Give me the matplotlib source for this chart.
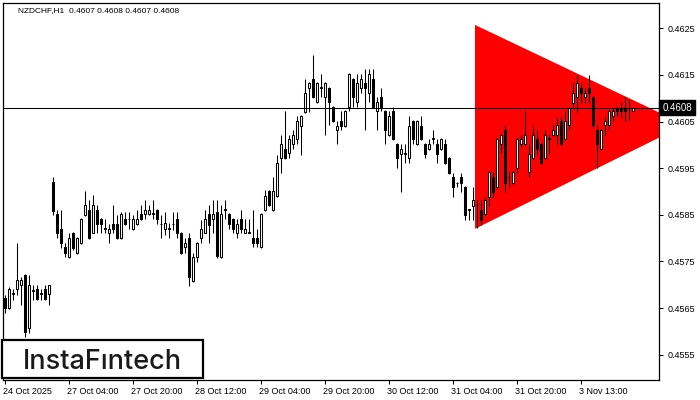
import numpy as np
import matplotlib
matplotlib.use('Agg')
import matplotlib.pyplot as plt
from matplotlib.patches import Polygon, Rectangle
import matplotlib.transforms as mtransforms

plt.rcParams['font.family'] = ['Liberation Sans', 'DejaVu Sans']

# NZDCHF H1 (bar 0 = 24 Oct 12:00)
opens = [0.45672, 0.45651, 0.45680, 0.45691, 0.45699, 0.45722, 0.45608, 0.45686, 0.45691, 0.45680,
         0.45691, 0.45681, 0.45921, 0.45852, 0.45820, 0.45781, 0.45760, 0.45812, 0.45769, 0.45790,
         0.45850, 0.45861, 0.45812, 0.45861, 0.45841, 0.45820, 0.45812, 0.45830, 0.45830, 0.45801,
         0.45841, 0.45841, 0.45820, 0.45830, 0.45852, 0.45852, 0.45852, 0.45852, 0.45861, 0.45830,
         0.45820, 0.45820, 0.45830, 0.45841, 0.45812, 0.45781, 0.45801, 0.45709, 0.45760, 0.45801,
         0.45812, 0.45852, 0.45841, 0.45856, 0.45760, 0.45861, 0.45852, 0.45841, 0.45812, 0.45841,
         0.45812, 0.45812, 0.45801, 0.45801, 0.45781, 0.45861, 0.45901, 0.45861, 0.45891, 0.45972,
         0.45991, 0.45983, 0.46002, 0.46013, 0.46041, 0.46071, 0.46122, 0.46141, 0.46092, 0.46122,
         0.46103, 0.46122, 0.46081, 0.46032, 0.46052, 0.46041, 0.46081, 0.46141, 0.46092, 0.46122,
         0.46133, 0.46111, 0.46141, 0.46073, 0.46103, 0.46073, 0.46021, 0.46073, 0.46002, 0.45981,
         0.45981, 0.45972, 0.46052, 0.46002, 0.46041, 0.46002, 0.45991, 0.46013, 0.46002, 0.45991,
         0.46002, 0.45972, 0.45931, 0.45918, 0.45931, 0.45910, 0.45861, 0.45869, 0.45871, 0.45861,
         0.45852, 0.45889, 0.45931, 0.45910, 0.46002, 0.46032, 0.45931, 0.45918, 0.45951, 0.46002,
         0.46002, 0.45942, 0.45972, 0.46013, 0.46002, 0.45972, 0.46013, 0.46021, 0.46021, 0.46052,
         0.46013, 0.46043, 0.46090, 0.46103, 0.46122, 0.46103, 0.46122, 0.46103, 0.46032, 0.45991,
         0.46043, 0.46043, 0.46062, 0.46079, 0.46079, 0.46079, 0.46079, 0.46073]
highs = [0.45679, 0.45695, 0.45691, 0.45790, 0.45717, 0.45724, 0.45722, 0.45699, 0.45699, 0.45691,
         0.45699, 0.45700, 0.45931, 0.45861, 0.45861, 0.45790, 0.45812, 0.45813, 0.45803, 0.45843,
         0.45901, 0.45882, 0.45893, 0.45871, 0.45843, 0.45841, 0.45830, 0.45871, 0.45850, 0.45855,
         0.45855, 0.45855, 0.45850, 0.45861, 0.45871, 0.45882, 0.45871, 0.45882, 0.45863, 0.45850,
         0.45855, 0.45832, 0.45855, 0.45855, 0.45813, 0.45801, 0.45812, 0.45769, 0.45792, 0.45839,
         0.45861, 0.45871, 0.45882, 0.45882, 0.45871, 0.45882, 0.45854, 0.45843, 0.45841, 0.45861,
         0.45841, 0.45841, 0.45861, 0.45820, 0.45854, 0.45904, 0.45903, 0.45931, 0.45978, 0.46021,
         0.46073, 0.46021, 0.46032, 0.46062, 0.46064, 0.46141, 0.46135, 0.46193, 0.46135, 0.46152,
         0.46135, 0.46124, 0.46083, 0.46052, 0.46073, 0.46075, 0.46154, 0.46143, 0.46152, 0.46152,
         0.46163, 0.46163, 0.46163, 0.46103, 0.46122, 0.46075, 0.46073, 0.46081, 0.46004, 0.46002,
         0.46002, 0.46062, 0.46054, 0.46054, 0.46062, 0.46004, 0.46013, 0.46032, 0.46013, 0.46015,
         0.46013, 0.45974, 0.45940, 0.45920, 0.45940, 0.45912, 0.45863, 0.45910, 0.45882, 0.45882,
         0.45889, 0.45944, 0.45942, 0.46015, 0.46023, 0.46043, 0.45942, 0.45944, 0.46015, 0.46021,
         0.46073, 0.46002, 0.46043, 0.46032, 0.46004, 0.46032, 0.46021, 0.46043, 0.46060, 0.46060,
         0.46073, 0.46081, 0.46133, 0.46150, 0.46133, 0.46122, 0.46150, 0.46105, 0.46043, 0.46034,
         0.46060, 0.46075, 0.46079, 0.46081, 0.46090, 0.46103, 0.46096, 0.46081]
lows = [0.45640, 0.45649, 0.45668, 0.45679, 0.45657, 0.45588, 0.45597, 0.45668, 0.45668, 0.45668,
        0.45668, 0.45657, 0.45850, 0.45801, 0.45779, 0.45760, 0.45758, 0.45775, 0.45767, 0.45788,
        0.45848, 0.45799, 0.45810, 0.45812, 0.45812, 0.45812, 0.45790, 0.45812, 0.45799, 0.45799,
        0.45828, 0.45820, 0.45818, 0.45828, 0.45839, 0.45841, 0.45850, 0.45841, 0.45830, 0.45801,
        0.45806, 0.45801, 0.45818, 0.45801, 0.45767, 0.45769, 0.45697, 0.45707, 0.45749, 0.45790,
        0.45810, 0.45790, 0.45812, 0.45758, 0.45758, 0.45841, 0.45820, 0.45812, 0.45801, 0.45812,
        0.45810, 0.45810, 0.45781, 0.45781, 0.45779, 0.45859, 0.45869, 0.45859, 0.45889, 0.45940,
        0.45970, 0.45972, 0.45991, 0.46002, 0.45978, 0.46069, 0.46071, 0.46101, 0.46090, 0.46103,
        0.46021, 0.46043, 0.46050, 0.46002, 0.46032, 0.46039, 0.46073, 0.46081, 0.46081, 0.46111,
        0.46032, 0.46092, 0.46079, 0.46032, 0.46073, 0.46002, 0.46019, 0.46011, 0.45951, 0.45899,
        0.45961, 0.45961, 0.46002, 0.46000, 0.46011, 0.45972, 0.45989, 0.46002, 0.45961, 0.45989,
        0.45959, 0.45938, 0.45889, 0.45910, 0.45899, 0.45839, 0.45839, 0.45839, 0.45822, 0.45829,
        0.45850, 0.45869, 0.45889, 0.45908, 0.45983, 0.45899, 0.45910, 0.45916, 0.45940, 0.45995,
        0.46000, 0.45931, 0.45970, 0.45981, 0.45959, 0.45970, 0.45981, 0.46019, 0.46002, 0.46000,
        0.46011, 0.46032, 0.46079, 0.46071, 0.46090, 0.46090, 0.46090, 0.46038, 0.45951, 0.45989,
        0.46021, 0.46032, 0.46052, 0.46062, 0.46060, 0.46052, 0.46052, 0.46072]
closes = [0.45651, 0.45691, 0.45682, 0.45710, 0.45710, 0.45599, 0.45699, 0.45688, 0.45670, 0.45682,
          0.45670, 0.45699, 0.45859, 0.45812, 0.45790, 0.45769, 0.45801, 0.45779, 0.45801, 0.45841,
          0.45871, 0.45801, 0.45871, 0.45830, 0.45830, 0.45821, 0.45820, 0.45820, 0.45801, 0.45852,
          0.45830, 0.45842, 0.45841, 0.45841, 0.45841, 0.45861, 0.45861, 0.45853, 0.45841, 0.45831,
          0.45832, 0.45821, 0.45831, 0.45812, 0.45769, 0.45790, 0.45717, 0.45760, 0.45790, 0.45820,
          0.45841, 0.45828, 0.45852, 0.45762, 0.45852, 0.45862, 0.45830, 0.45820, 0.45830, 0.45820,
          0.45820, 0.45813, 0.45790, 0.45790, 0.45852, 0.45891, 0.45871, 0.45901, 0.45961, 0.46002,
          0.45972, 0.46013, 0.46021, 0.46052, 0.46062, 0.46111, 0.46133, 0.46103, 0.46133, 0.46123,
          0.46133, 0.46092, 0.46052, 0.46041, 0.46041, 0.46073, 0.46152, 0.46103, 0.46133, 0.46141,
          0.46122, 0.46152, 0.46081, 0.46092, 0.46081, 0.46032, 0.46062, 0.46013, 0.45972, 0.45991,
          0.45982, 0.46041, 0.46013, 0.46052, 0.46013, 0.45981, 0.46002, 0.46014, 0.45981, 0.46013,
          0.45961, 0.45940, 0.45910, 0.45919, 0.45919, 0.45850, 0.45862, 0.45882, 0.45872, 0.45839,
          0.45882, 0.45942, 0.45899, 0.46013, 0.46021, 0.45918, 0.45932, 0.45942, 0.46013, 0.46013,
          0.46021, 0.45981, 0.46021, 0.45991, 0.45961, 0.46021, 0.46014, 0.46032, 0.46043, 0.46002,
          0.46052, 0.46079, 0.46111, 0.46133, 0.46111, 0.46111, 0.46111, 0.46043, 0.46002, 0.46032,
          0.46052, 0.46073, 0.46073, 0.46073, 0.46073, 0.46073, 0.46080, 0.46080]

date_labels = ['24 Oct 2025', '27 Oct 04:00', '27 Oct 20:00', '28 Oct 12:00', '29 Oct 04:00',
               '29 Oct 20:00', '30 Oct 12:00', '31 Oct 04:00', '31 Oct 20:00', '3 Nov 13:00']
date_pos = [0, 16, 32, 48, 64, 80, 96, 112, 128, 144]
price_ticks = [0.4555, 0.4565, 0.4575, 0.4585, 0.4595, 0.4605, 0.4615, 0.4625]
last_price = 0.4608
# triangle pattern: left-top, left-bottom, apex (bar index, price)
tri_x = [117.6, 117.6, 170.1]
tri_y = [0.46257, 0.45820, 0.46043]

o = np.array(opens); h = np.array(highs); l = np.array(lows); c = np.array(closes)
x = np.arange(len(o))
up = c >= o

fig = plt.figure(figsize=(7, 4), dpi=100)
ax = fig.add_axes([3/700, 20/400, 656/700, 377/400])
ax.set_xlim(-0.4, 163.6)
ax.set_ylim(0.45496, 0.46304)

ax.add_patch(Polygon(list(zip(tri_x, tri_y)), closed=True, facecolor='#ff0000',
                     edgecolor='none', zorder=1))

ax.vlines(x, l, h, color='black', lw=0.75, zorder=3)
body_h = np.maximum(np.abs(c - o), 0.000003)
ax.bar(x, body_h, bottom=np.minimum(o, c), width=0.5,
       color=np.where(up, 'white', 'black'), edgecolor='black', linewidth=0.75, zorder=4)

ax.axhline(last_price, color='black', lw=0.75, zorder=5)

for s in ax.spines.values():
    s.set_linewidth(0.9)

ax.yaxis.tick_right()
ax.set_yticks(price_ticks)
ax.set_yticklabels(['%.4f' % v for v in price_ticks])
ax.set_xticks(date_pos)
ax.set_xticklabels(date_labels, ha='left')
ax.tick_params(axis='both', direction='out', length=3, width=0.75, labelsize=6.5, colors='black')
ax.tick_params(axis='x', pad=2)
offset = mtransforms.ScaledTranslation(-2/100, 0, fig.dpi_scale_trans)
for lab in ax.get_xticklabels():
    lab.set_transform(lab.get_transform() + offset)

# current price box
trans = mtransforms.blended_transform_factory(ax.transAxes, ax.transData)
ax.text(1.005, last_price, '0.4608', transform=trans, ha='left', va='center', fontsize=7,
        color='white', clip_on=False,
        bbox=dict(boxstyle='square,pad=0.3', facecolor='black', edgecolor='black'))

ax.text(0.023, 0.988, 'NZDCHF,H1  0.4607 0.4608 0.4607 0.4608', transform=ax.transAxes,
        ha='left', va='top', fontsize=6.0, color='black')

# logo
ax.add_patch(Rectangle((-1/656, 2/377), 201/656, 38/377, transform=ax.transAxes,
                       facecolor='white', edgecolor='black', linewidth=1.6, zorder=6,
                       clip_on=False))
ax.text(99/656, 10.7/377, 'InstaF\u0131ntech', transform=ax.transAxes, ha='center',
        va='baseline', fontsize=19.5, fontweight='medium', color='#1a1a1a',
        family=['Inter', 'DejaVu Sans'], zorder=7)

fig.savefig('out.png', dpi=100)
